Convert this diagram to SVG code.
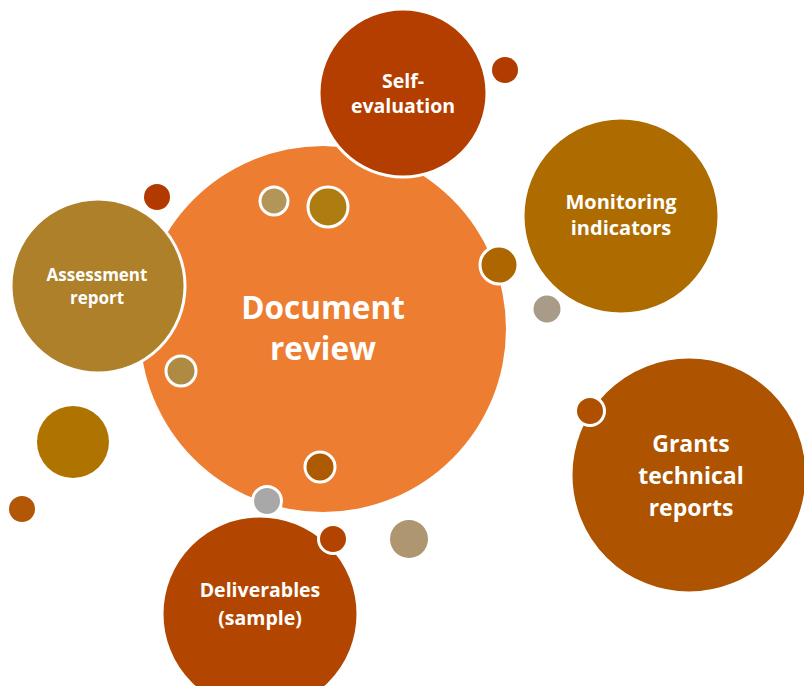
<svg xmlns="http://www.w3.org/2000/svg" width="804" height="686" viewBox="0 0 804 686">
<style>
.big{stroke:#fff;stroke-width:3}
.dot{stroke:#fff;stroke-width:3}
text{font-family:"Open Sans","Liberation Sans",sans-serif;font-weight:bold;fill:#fff;text-anchor:middle}
</style>
<rect width="804" height="686" fill="#fff"/>
<g id="dots-back">
<circle cx="505" cy="70" r="13" fill="#B23C00"/>
<circle cx="157" cy="197" r="13" fill="#B23A00"/>
<circle cx="547" cy="309" r="13.5" fill="#A89C88"/>
<circle cx="73" cy="442" r="36" fill="#AF7400"/>
<circle cx="22" cy="509" r="13" fill="#B25706"/>
<circle cx="409" cy="539" r="19" fill="#AD9670"/>
</g>
<g id="document-review">
<circle cx="323" cy="329" r="183" fill="#ED7D31"/>
<text x="323" y="319" font-size="31.5">Document</text>
<text x="323" y="360" font-size="31.5">review</text>
</g>
<g id="self-evaluation">
<circle class="big" cx="403" cy="93" r="84" fill="#B33E00"/>
<text x="403" y="88" font-size="19.5">Self-</text>
<text x="403" y="113" font-size="19.5">evaluation</text>
</g>
<g id="monitoring-indicators">
<circle class="big" cx="621" cy="216" r="98" fill="#AE6C00"/>
<text x="621" y="209" font-size="20">Monitoring</text>
<text x="621" y="235" font-size="20">indicators</text>
</g>
<g id="grants-technical-reports">
<circle class="big" cx="689" cy="475" r="118" fill="#AE5300"/>
<text x="691" y="452" font-size="23">Grants</text>
<text x="691" y="484" font-size="23">technical</text>
<text x="691" y="516" font-size="23">reports</text>
</g>
<g id="assessment-report">
<circle class="big" cx="98" cy="286" r="87" fill="#AE8029"/>
<text x="97" y="281" font-size="17">Assessment</text>
<text x="97" y="304" font-size="17">report</text>
</g>
<g id="deliverables">
<circle class="big" cx="260" cy="614" r="98" fill="#B24600"/>
<text x="260" y="597" font-size="19.5">Deliverables</text>
<text x="260" y="625" font-size="19.5">(sample)</text>
</g>
<g id="dots-front">
<circle class="dot" cx="274" cy="201" r="14" fill="#B39558"/>
<circle class="dot" cx="328" cy="207" r="20" fill="#AF7C12"/>
<circle class="dot" cx="499" cy="265" r="19" fill="#AE6600"/>
<circle class="dot" cx="181" cy="371" r="15" fill="#AF8A42"/>
<circle class="dot" cx="320" cy="467" r="15" fill="#AE5A00"/>
<circle class="dot" cx="267" cy="501" r="14.5" fill="#A8A8A8"/>
<circle class="dot" cx="333" cy="539" r="14.5" fill="#B24400"/>
<circle class="dot" cx="590" cy="411" r="14.5" fill="#AE5000"/>
</g>
</svg>
